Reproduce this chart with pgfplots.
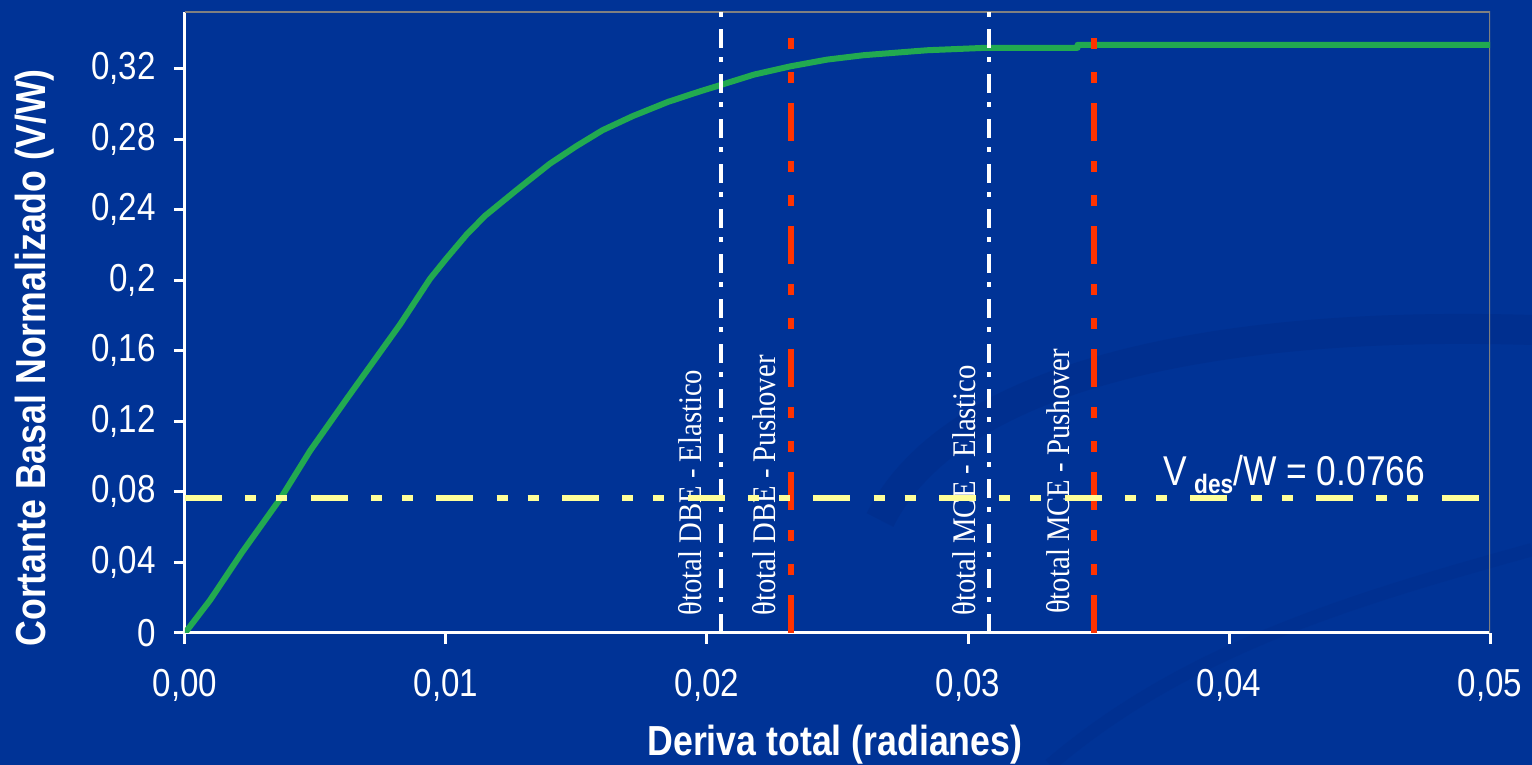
\documentclass[border=0pt]{standalone}
\usepackage{fontspec}
\setmainfont{Liberation Sans}[FakeStretch=0.85]
\newfontfamily\lblfont{Liberation Serif}[FakeStretch=0.87]
\usepackage{pgfplots}
\pgfplotsset{compat=1.18}
\definecolor{bgblue}{RGB}{0,51,150}
\definecolor{swoosh}{RGB}{0,42,132}
\definecolor{curvegreen}{RGB}{34,170,80}
\definecolor{dashred}{RGB}{255,51,0}
\definecolor{lightyellow}{RGB}{255,255,153}
\definecolor{framegray}{RGB}{128,128,128}
\begin{document}
\begin{tikzpicture}
\useasboundingbox (-55.5pt,-39.6pt) rectangle (404.1pt,189.9pt);
\fill[bgblue] (-55.5pt,-39.6pt) rectangle (404.1pt,189.9pt);
\begin{scope}
\clip (-55.5pt,-39.6pt) rectangle (404.1pt,189.9pt);
\draw[swoosh, line width=9pt, opacity=0.35] (208.5pt,33.9pt) .. controls (229.5pt,75.9pt) and (304.5pt,93.9pt) .. (404.1pt,90.9pt);
\draw[swoosh, line width=4pt, opacity=0.25] (259.5pt,-39.6pt) .. controls (300pt,-5pt) and (350pt,10pt) .. (404.1pt,25pt);
\end{scope}
\begin{axis}[
  at={(0,0)}, anchor=south west,
  scale only axis, width=391.5pt, height=186.3pt,
  xmin=0, xmax=0.05, ymin=0, ymax=0.352,
  axis lines*=left,
  axis line style={white, line width=0.9pt, -},
  xtick={0,0.01,0.02,0.03,0.04,0.05},
  xticklabels={{0,00},{0,01},{0,02},{0,03},{0,04},{0,05}},
  ytick={0,0.04,0.08,0.12,0.16,0.2,0.24,0.28,0.32},
  yticklabels={0,{0,04},{0,08},{0,12},{0,16},{0,2},{0,24},{0,28},{0,32}},
  scaled ticks=false,
  tick align=outside, major tick length=3.3pt,
  tick style={white, line width=0.9pt},
  ticklabel style={font=\fontsize{11.7}{14}\selectfont, text=white},
  xticklabel style={yshift=-4pt},
  yticklabel style={xshift=-2pt},
  xlabel={Deriva total (radianes)},
  ylabel={Cortante Basal Normalizado (V/W)},
  label style={font=\fontsize{12.6}{15}\selectfont\bfseries, text=white},
  xlabel style={at={(axis description cs:0.498,-0.18)}, anchor=center},
  ylabel style={at={(axis description cs:-0.115,0.443)}, anchor=center},
]
\draw[framegray, line width=0.9pt] (rel axis cs:0,1) -- (rel axis cs:1,1) -- (rel axis cs:1,0);
% labels
\node[rotate=90, anchor=base west, inner sep=0, text=white, font=\lblfont\fontsize{9.9}{12}\selectfont] at (axis cs:0.0198,0.0095) {θtotal DBE - Elastico};
\node[rotate=90, anchor=base west, inner sep=0, text=white, font=\lblfont\fontsize{9.9}{12}\selectfont] at (axis cs:0.02264,0.0095) {θtotal DBE - Pushover};
\node[rotate=90, anchor=base west, inner sep=0, text=white, font=\lblfont\fontsize{9.9}{12}\selectfont] at (axis cs:0.03027,0.0095) {θtotal MCE - Elastico};
\node[rotate=90, anchor=base west, inner sep=0, text=white, font=\lblfont\fontsize{9.9}{12}\selectfont] at (axis cs:0.0339,0.0105) {θtotal MCE - Pushover};
% curve
\addplot[curvegreen, line width=1.8pt, line join=round] coordinates {
(0,0) (0.00096,0.0186) (0.0022,0.0460) (0.00368,0.0767) (0.00479,0.1032)
(0.00621,0.1330) (0.00824,0.1749) (0.00939,0.2008)
(0.0100,0.2120) (0.0108,0.2260) (0.0115,0.2365) (0.01270,0.2510) (0.01398,0.2660)
(0.01500,0.2760) (0.01600,0.2850) (0.01716,0.2930) (0.01850,0.3010)
(0.01973,0.3070) (0.0205,0.3105) (0.0218,0.3165) (0.0232,0.3212)
(0.0246,0.3250) (0.0260,0.3275) (0.02843,0.3303) (0.0307,0.3317)
(0.0342,0.3317) (0.0342,0.3334) (0.05,0.3334)};
% vertical white dash-dot
\addplot[white, line width=1.2pt, dash pattern=on 5.7pt off 3.6pt on 1.5pt off 2.7pt] coordinates {(0.02054,0) (0.02054,0.352)};
\addplot[white, line width=1.2pt, dash pattern=on 5.7pt off 3.6pt on 1.5pt off 2.7pt] coordinates {(0.0308,0) (0.0308,0.352)};
% vertical red dashed
\addplot[dashred, line width=1.8pt, dash pattern=on 11.4pt off 6pt on 3.3pt off 6.9pt on 3.3pt off 6pt] coordinates {(0.02322,0) (0.02322,0.34)};
\addplot[dashred, line width=1.8pt, dash pattern=on 11.4pt off 6pt on 3.3pt off 6.9pt on 3.3pt off 6pt] coordinates {(0.03483,0) (0.03483,0.34)};
% horizontal yellow
\addplot[lightyellow, line width=1.8pt, dash pattern=on 11.1pt off 7pt on 3.3pt off 6pt on 3.3pt off 7pt] coordinates {(0,0.0766) (0.05,0.0766)};
\node[anchor=base west, inner sep=0, text=white, font=\fontsize{12.5}{15}\selectfont] at (axis cs:0.03747,0.0835) {V\,\raisebox{-2.4pt}{\fontsize{8}{9}\selectfont\bfseries des}/W = 0.0766};
\end{axis}
\end{tikzpicture}
\end{document}
